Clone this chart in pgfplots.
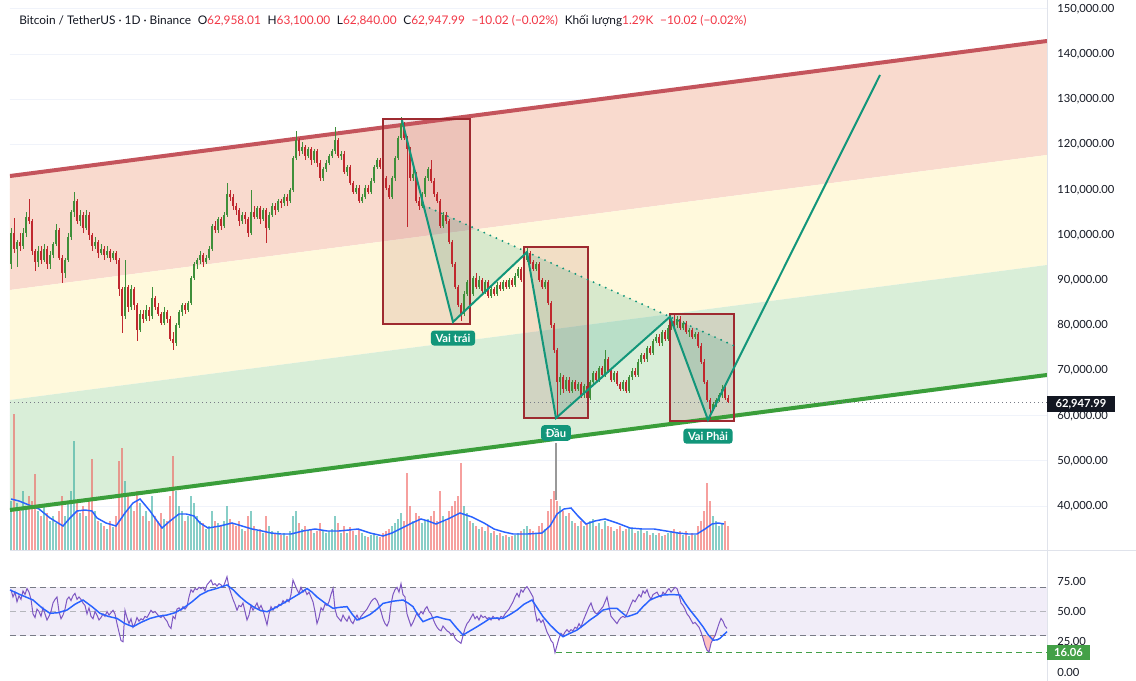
\documentclass[border=0pt]{standalone}
\usepackage{pgfplots}
\pgfplotsset{compat=1.18}
\usepackage{pgfplotstable}
\usepackage{fontspec}
\setmainfont{Lato}
\definecolor{bandr}{HTML}{F9DACE}
\definecolor{bandy}{HTML}{FFF9DC}
\definecolor{bandg}{HTML}{D9EED8}
\definecolor{chred}{HTML}{C4545C}
\definecolor{chgreen}{HTML}{3A9E3A}
\definecolor{cup}{HTML}{3F8F3A}
\definecolor{cdn}{HTML}{C0282E}
\definecolor{vup}{HTML}{26A69A}
\definecolor{vdn}{HTML}{EF5350}
\definecolor{hsteal}{HTML}{12967A}
\definecolor{boxred}{HTML}{9E2A30}
\definecolor{rsipurple}{HTML}{7E57C2}
\definecolor{rsiblue}{HTML}{2962FF}
\definecolor{txt}{HTML}{131722}
\definecolor{legred}{HTML}{F23645}
\definecolor{gridc}{HTML}{F0F3FA}
\definecolor{sepc}{HTML}{E0E3EB}
\definecolor{dashgrey}{HTML}{787B86}
\definecolor{okgreen}{HTML}{43A047}

\pgfplotstableread{
x o h l c v
11 93.5 101.5 92.5 100.5 50
14 100.5 103.7 96.0 97.0 137
17 97.0 99.0 93.0 98.5 48
20 98.5 100.5 96.5 97.5 40
23 97.5 101.5 97.0 100.5 60
26 100.5 105.0 99.5 104.0 45
29 104.0 108.0 102.5 103.0 55
32 103.0 103.5 95.5 96.5 50
35 96.5 97.0 92.0 94.0 77
38 94.0 97.5 93.0 96.5 40
41 96.5 97.5 93.5 94.5 35
44 94.5 98.0 94.0 97.0 45
47 97.0 97.5 92.5 93.5 38
50 93.5 96.5 92.5 95.5 30
53 95.5 98.5 95.0 98.0 35
56 98.0 102.5 97.5 101.0 28
59 101.0 101.5 94.5 95.0 40
62 95.0 95.5 89.4 91.5 55
65 91.5 95.0 90.5 94.5 35
68 94.5 100.5 94.0 99.5 48
71 99.5 105.5 99.0 105.0 60
74 105.0 109.5 104.0 107.5 110
77 107.5 108.0 102.5 103.0 50
80 103.0 105.5 102.0 104.5 38
83 104.5 105.0 100.5 101.5 45
86 101.5 105.5 101.0 104.5 35
89 104.5 105.0 99.0 100.0 50
92 100.0 100.5 96.5 97.5 92
95 97.5 99.5 97.0 98.5 40
98 98.5 99.0 95.0 96.0 30
101 96.0 98.0 95.5 97.0 28
104 97.0 97.5 94.5 95.5 25
107 95.5 97.5 95.0 96.5 22
110 96.5 97.0 94.0 95.0 30
113 95.0 96.5 94.5 96.0 24
116 96.0 96.5 93.5 94.5 35
119 94.5 95.0 86.5 88.0 90
122 88.0 88.5 78.3 82.0 103
125 82.0 94.5 81.5 88.5 70
128 88.5 89.0 83.0 84.0 55
131 84.0 89.0 83.5 88.0 45
134 88.0 88.5 83.5 84.5 40
137 84.5 85.0 76.5 79.0 60
140 79.0 83.5 78.5 82.5 48
143 82.5 83.5 80.5 81.5 35
146 81.5 84.5 81.0 83.5 40
149 83.5 84.0 81.0 82.0 30
152 82.0 88.5 81.5 86.0 55
155 86.0 86.5 83.5 84.0 35
158 84.0 85.0 82.0 82.5 30
161 82.5 83.0 80.0 80.5 38
164 80.5 84.0 80.0 83.0 32
167 83.0 83.5 80.5 81.5 30
170 81.5 82.0 76.5 77.0 55
173 77.0 78.5 74.6 76.0 95
176 76.0 80.5 75.5 80.0 60
179 80.0 83.5 79.5 83.0 45
182 83.0 85.0 82.0 84.5 40
185 84.5 85.0 82.5 83.5 30
188 83.5 85.5 83.0 85.0 35
191 85.0 91.0 84.5 90.5 55
194 90.5 94.0 90.0 93.5 48
197 93.5 95.0 92.5 94.5 35
200 94.5 96.5 93.5 95.5 30
203 95.5 96.0 93.0 94.0 28
206 94.0 95.5 93.5 95.0 22
209 95.0 97.5 94.5 97.0 25
212 97.0 102.5 96.5 102.0 40
215 102.0 103.0 100.5 101.0 30
218 101.0 104.0 100.5 103.5 28
221 103.5 104.0 101.0 102.0 25
224 102.0 105.0 101.5 104.5 30
227 104.5 111.5 104.0 109.0 45
230 109.0 110.0 107.5 108.5 32
233 108.5 109.0 105.5 106.5 28
236 106.5 107.0 104.5 105.5 25
239 105.5 106.0 102.0 103.0 30
242 103.0 105.0 102.5 104.5 22
245 104.5 105.0 102.5 103.5 20
248 103.5 104.0 99.5 100.5 35
251 100.5 110.0 100.0 105.0 40
254 105.0 106.5 103.5 104.0 25
257 104.0 106.5 103.5 106.0 20
260 106.0 106.5 102.5 103.5 22
263 103.5 106.0 103.0 105.5 18
266 105.5 106.0 98.2 101.5 35
269 101.5 105.0 101.0 104.5 25
272 104.5 107.0 104.0 106.5 20
275 106.5 107.0 104.5 105.5 18
278 105.5 108.0 105.0 107.5 20
281 107.5 108.0 106.0 107.0 16
284 107.0 109.0 106.5 108.5 18
287 108.5 109.0 106.5 107.5 15
290 107.5 110.5 107.0 110.0 20
293 110.0 117.5 109.5 117.0 35
296 117.0 123.0 116.5 121.0 40
299 121.0 121.5 117.5 118.5 28
302 118.5 120.5 118.0 119.5 22
305 119.5 120.0 116.5 117.5 25
308 117.5 119.5 117.0 119.0 20
311 119.0 119.5 115.5 116.5 22
314 116.5 119.0 116.0 118.5 18
317 118.5 119.0 115.0 116.0 20
320 116.0 116.5 112.0 112.5 28
323 112.5 115.0 112.0 114.5 20
326 114.5 116.5 114.0 116.0 18
329 116.0 118.0 115.5 117.5 20
332 117.5 119.0 117.0 118.5 22
335 118.5 124.0 118.0 121.0 35
338 121.0 121.5 117.0 117.5 28
341 117.5 118.5 116.5 118.0 18
344 118.0 118.5 113.5 114.0 25
347 114.0 115.5 113.0 115.0 18
350 115.0 115.5 111.0 111.5 24
353 111.5 112.0 109.0 109.5 20
356 109.5 111.0 109.0 110.5 16
359 110.5 111.0 107.0 107.5 22
362 107.5 109.0 107.0 108.5 18
365 108.5 111.0 108.0 110.5 15
368 110.5 111.0 109.0 109.5 14
371 109.5 112.5 109.0 112.0 16
374 112.0 115.5 111.5 115.0 18
377 115.0 117.0 114.5 116.5 15
380 116.5 117.0 114.5 115.0 14
383 115.0 115.5 112.0 112.5 18
386 112.5 113.0 110.0 110.5 20
389 110.5 111.0 108.0 108.5 22
392 108.5 113.0 108.0 112.5 25
395 112.5 117.5 112.0 117.0 28
398 117.0 122.0 116.5 121.5 32
401 121.5 126.0 121.0 124.5 38
404 124.5 125.0 121.0 121.5 30
407 121.5 122.0 101.8 119.0 78
410 119.0 119.5 112.0 112.5 45
413 112.5 115.0 112.0 113.5 30
416 113.5 114.0 107.0 107.5 38
419 107.5 108.5 105.5 106.5 35
422 106.5 109.5 106.0 109.0 28
425 109.0 113.0 108.5 112.5 30
428 112.5 115.0 112.0 114.5 32
431 114.5 116.5 111.5 112.0 35
434 112.0 112.5 108.5 109.0 40
437 109.0 109.5 107.0 107.5 30
440 107.5 108.0 101.5 102.0 60
443 102.0 105.0 101.5 104.5 35
446 104.5 105.0 102.5 103.0 30
449 103.0 103.5 98.0 98.5 40
452 98.5 99.0 93.0 93.5 45
455 93.5 94.0 88.0 88.5 50
458 88.5 89.0 84.0 84.5 55
461 84.5 85.0 81.0 82.5 88
464 82.5 87.5 82.0 87.0 45
467 87.0 90.0 86.5 89.5 38
470 89.5 90.0 86.5 87.0 30
473 87.0 91.0 86.5 90.5 28
476 90.5 91.5 88.0 88.5 25
479 88.5 91.0 88.0 90.0 22
482 90.0 90.5 87.0 87.5 24
485 87.5 90.0 87.0 89.5 20
488 89.5 90.0 86.0 86.5 25
491 86.5 88.5 86.0 88.0 18
494 88.0 88.5 86.5 87.0 20
497 87.0 89.5 86.5 89.0 16
500 89.0 89.5 87.5 88.0 18
503 88.0 90.0 87.5 89.5 15
506 89.5 90.0 88.0 88.5 16
509 88.5 90.5 88.0 90.0 14
512 90.0 90.5 88.5 89.0 15
515 89.0 91.5 88.5 91.0 16
518 91.0 93.0 90.5 92.5 18
521 92.5 93.0 89.5 90.0 20
524 90.0 95.0 89.5 94.5 22
527 94.5 97.3 94.0 96.0 25
530 96.0 96.5 93.5 94.0 22
533 94.0 94.5 92.0 92.5 20
536 92.5 94.0 92.0 93.5 18
539 93.5 94.0 89.5 90.0 25
542 90.0 90.5 88.0 88.5 28
545 88.5 90.0 88.0 89.5 22
548 89.5 90.0 84.5 85.0 40
551 85.0 85.5 79.5 80.0 52
554 80.0 80.5 74.0 74.5 60
557 74.5 75.0 60.0 67.5 50
560 67.5 69.5 64.5 68.5 45
563 68.5 69.0 65.0 66.0 40
566 66.0 68.5 65.5 68.0 35
569 68.0 68.5 65.0 65.5 38
572 65.5 68.0 65.0 67.5 30
575 67.5 68.0 65.5 66.0 28
578 66.0 67.5 65.5 67.0 25
581 67.0 67.5 64.0 64.5 30
584 64.5 67.0 64.0 66.5 25
587 66.5 67.0 63.5 64.0 28
590 64.0 68.0 63.5 67.5 30
593 67.5 70.0 67.0 69.5 32
596 69.5 70.0 67.5 68.0 25
599 68.0 71.0 67.5 70.5 28
602 70.5 71.0 68.5 69.0 22
605 69.0 74.5 68.5 72.5 30
608 72.5 73.0 69.5 70.0 25
611 70.0 70.5 67.5 68.0 24
614 68.0 70.0 67.5 69.5 20
617 69.5 70.0 66.5 67.0 22
620 67.0 67.5 65.5 66.0 25
623 66.0 68.0 65.5 67.5 20
626 67.5 68.0 65.0 65.5 22
629 65.5 69.0 65.0 68.5 24
632 68.5 70.5 68.0 70.0 22
635 70.0 70.5 68.5 69.0 18
638 69.0 72.5 68.5 72.0 20
641 72.0 74.0 71.5 73.5 22
644 73.5 74.0 72.0 72.5 18
647 72.5 75.5 72.0 75.0 20
650 75.0 75.5 73.5 74.0 16
653 74.0 77.0 73.5 76.5 18
656 76.5 78.0 76.0 77.5 16
659 77.5 78.0 75.5 76.0 18
662 76.0 79.0 75.5 78.5 15
665 78.5 79.0 76.5 77.0 16
668 77.0 80.0 76.5 79.5 18
671 79.5 81.5 79.0 81.0 20
674 81.0 82.5 79.5 80.0 22
677 80.0 82.0 79.5 81.5 18
680 81.5 82.0 79.0 79.5 20
683 79.5 81.0 79.0 80.5 16
686 80.5 81.0 78.0 78.5 20
689 78.5 79.5 77.5 79.0 15
692 79.0 79.5 77.0 77.5 18
695 77.5 78.5 77.0 78.0 16
698 78.0 78.5 75.0 75.5 25
701 75.5 76.0 71.5 72.0 30
704 72.0 72.5 67.0 67.5 40
707 67.5 68.0 63.0 63.5 68
710 63.5 64.0 59.3 61.5 50
713 61.5 63.0 61.0 62.5 35
716 62.5 64.0 62.0 63.5 30
719 63.5 65.0 63.0 64.5 25
722 64.5 66.8 64.0 66.0 28
725 66.0 66.5 63.5 64.0 30
728 64.0 64.5 62.8 62.95 25
}\candles

\pgfplotsset{
  panel/.style={scale only axis, width=777.75pt, xmin=10, xmax=1047,
    axis line style={draw=none}, major tick length=0pt, xtick=\empty,
    ytick pos=right, yticklabel pos=right,
    yticklabel style={anchor=west, inner sep=0pt, xshift=7.5pt,
      font=\fontsize{8.4}{9}\selectfont, text=txt}},
  pricepanel/.style={panel, at={(7.5pt,97.5pt)}, anchor=south west,
    height=413.25pt, ymin=30.09, ymax=151.99},
  candle/.style n args={3}{draw=none, mark=none, forget plot,
    restrict expr to domain={\thisrow{c}-\thisrow{o}}{#1},
    error bars/.cd, y dir=both, y explicit, error mark=none,
    error bar style={draw=#2, line width=#3}},
}

\begin{document}
\begin{tikzpicture}[x=0.75pt,y=0.75pt]
\useasboundingbox (0,0) rectangle (1136,681);
\fill[white] (0,0) rectangle (1136,681);

% ---------- price panel: bands, grid, scale ----------
\begin{axis}[pricepanel,
  ytick={40,50,60,70,80,90,100,110,120,130,140,150},
  yticklabels={{40,000.00},{50,000.00},{60,000.00},{70,000.00},{80,000.00},{90,000.00},{100,000.00},{110,000.00},{120,000.00},{130,000.00},{140,000.00},{150,000.00}},
  ymajorgrids, grid style={gridc, line width=0.75pt}]
\addplot[fill=bandr, draw=none] coordinates {(10,113.05)(1047,142.92)(1047,117.70)(10,87.83)} -- cycle;
\addplot[fill=bandy, draw=none] coordinates {(10,87.83)(1047,117.70)(1047,93.36)(10,63.50)} -- cycle;
\addplot[fill=bandg, draw=none] coordinates {(10,63.50)(1047,93.36)(1047,69.03)(10,39.16)} -- cycle;
\end{axis}

% ---------- volume ----------
\begin{axis}[panel, at={(7.5pt,97.5pt)}, anchor=south west, height=413.25pt,
  ymin=0, ymax=551, hide axis]
\addplot[ycomb, draw=vup, draw opacity=0.55, line width=1.5pt,
  restrict expr to domain={\thisrow{c}-\thisrow{o}}{0:1000}] table[x=x,y=v]{\candles};
\addplot[ycomb, draw=vdn, draw opacity=0.55, line width=1.5pt,
  restrict expr to domain={\thisrow{c}-\thisrow{o}}{-1000:-0.001}] table[x=x,y=v]{\candles};
\addplot[rsiblue, line width=1.1pt] coordinates {(11,52)(19,50)(29,46)(39,42)(50,33)(63,25)(70,33)(77,40)(85,41)(92,40)(97,33)(106,28)(116,25)(125,38)(133,48)(140,52)(150,40)(162,23)(170,30)(179,37)(186,37)(194,35)(200,28)(208,23)(220,25)(232,28)(242,25)(252,22)(262,20)(271,18)(281,17)(291,17)(303,20)(315,22)(327,20)(339,20)(349,21)(358,22)(370,18)(383,15)(392,18)(402,23)(412,28)(421,32)(428,30)(436,27)(448,32)(460,38)(472,34)(484,28)(494,22)(504,19)(513,17)(528,17)(542,18)(550,25)(557,37)(564,42)(571,43)(578,35)(586,27)(595,30)(605,32)(617,28)(630,23)(642,22)(654,22)(666,20)(678,18)(688,17)(697,17)(705,22)(712,27)(718,28)(724,27)};
\end{axis}

% ---------- candles and drawings ----------
\begin{axis}[pricepanel, hide axis]
% rectangles fill
\addplot[fill=boxred, fill opacity=0.13, draw=none] coordinates {(383,125.66)(470,125.66)(470,80.31)(383,80.31)} -- cycle;
\addplot[fill=boxred, fill opacity=0.13, draw=none] coordinates {(524,97.35)(588,97.35)(588,59.51)(524,59.51)} -- cycle;
\addplot[fill=boxred, fill opacity=0.13, draw=none] coordinates {(670,82.52)(734,82.52)(734,58.85)(670,58.85)} -- cycle;
% pattern triangles
\addplot[fill=hsteal, fill opacity=0.16, draw=none] coordinates {(423.5,106.6)(453,80.75)(527,96.2)} -- cycle;
\addplot[fill=hsteal, fill opacity=0.16, draw=none] coordinates {(527,96.2)(556,59.5)(670,81.9)} -- cycle;
\addplot[fill=hsteal, fill opacity=0.16, draw=none] coordinates {(670,81.9)(708,59.1)(735,71.1)(735,75.4)} -- cycle;
% channel lines
\addplot[chred, line width=3pt] coordinates {(10,113.05)(1047,142.92)};
\addplot[chgreen, line width=3pt] coordinates {(10,39.16)(1047,69.03)};
% current price line
\addplot[dashgrey, line width=0.6pt, dash pattern=on 0.75pt off 2.25pt] coordinates {(10,62.95)(1047,62.95)};
% candles: wicks
\addplot[candle={0:1000}{cup}{0.6pt}]
  table[x=x, y=c, y error plus expr=\thisrow{h}-\thisrow{c}, y error minus expr=\thisrow{c}-\thisrow{l}]{\candles};
\addplot[candle={-1000:-0.001}{cdn}{0.6pt}]
  table[x=x, y=c, y error plus expr=\thisrow{h}-\thisrow{c}, y error minus expr=\thisrow{c}-\thisrow{l}]{\candles};
% candles: bodies
\addplot[candle={0:1000}{cup}{1.5pt}]
  table[x=x, y expr={(\thisrow{o}+\thisrow{c})/2}, y error expr={abs(\thisrow{c}-\thisrow{o})/2}]{\candles};
\addplot[candle={-1000:-0.001}{cdn}{1.5pt}]
  table[x=x, y expr={(\thisrow{o}+\thisrow{c})/2}, y error expr={abs(\thisrow{c}-\thisrow{o})/2}]{\candles};
% rectangle borders
\addplot[boxred, line width=1.5pt] coordinates {(383,125.66)(470,125.66)(470,80.31)(383,80.31)} -- cycle;
\addplot[boxred, line width=1.5pt] coordinates {(524,97.35)(588,97.35)(588,59.51)(524,59.51)} -- cycle;
\addplot[boxred, line width=1.5pt] coordinates {(670,82.52)(734,82.52)(734,58.85)(670,58.85)} -- cycle;
% neckline and zigzag
\addplot[hsteal, line width=1.6pt, line cap=round, dash pattern=on 0pt off 5pt] coordinates {(423.5,106.6)(735,75.4)};
\addplot[hsteal, line width=1.5pt] coordinates {(402,125.4)(453,80.75)(527,96.2)(556,59.5)(670,81.9)(708,59.1)(880,135.4)};
\addplot[gray!80, line width=1.1pt] coordinates {(556,54.0)(556,41.4)};
% labels
\node[fill=hsteal, text=white, rounded corners=2.5pt, inner xsep=3.5pt, inner ysep=2.5pt,
  font=\bfseries\fontsize{8.4}{9}\selectfont] at (axis cs:453,77.2) {Vai trái};
\node[fill=hsteal, text=white, rounded corners=2.5pt, inner xsep=3.5pt, inner ysep=2.5pt,
  font=\bfseries\fontsize{8.4}{9}\selectfont] at (axis cs:556,56.2) {Đầu};
\node[fill=hsteal, text=white, rounded corners=2.5pt, inner xsep=3.5pt, inner ysep=2.5pt,
  font=\bfseries\fontsize{8.4}{9}\selectfont] at (axis cs:708,55.5) {Vai Phải};
\end{axis}

% ---------- RSI panel ----------
\begin{axis}[panel, at={(7.5pt,0pt)}, anchor=south west, height=96.75pt,
  ymin=-7.4, ymax=99.15,
  ytick={0,25,50,75}, yticklabels={0.00,25.00,50.00,75.00}]
\addplot[fill=rsipurple, fill opacity=0.1, draw=none] coordinates {(10,70)(1047,70)(1047,30)(10,30)} -- cycle;
\addplot[dashgrey, line width=0.75pt, dash pattern=on 4.5pt off 3pt] coordinates {(10,70)(1047,70)};
\addplot[dashgrey!55, line width=0.75pt, dash pattern=on 4.5pt off 3pt] coordinates {(10,50)(1047,50)};
\addplot[dashgrey, line width=0.75pt, dash pattern=on 4.5pt off 3pt] coordinates {(10,30)(1047,30)};
\addplot[okgreen, line width=0.75pt, dash pattern=on 4.5pt off 3pt] coordinates {(556,16.06)(1047,16.06)};
\addplot[fill=red!40, fill opacity=0.6, draw=none] coordinates {(702,30)(703,28)(705,22)(707,18)(709,16.5)(711,23.7)(713,27)(715,30)} -- cycle;
\addplot[rsipurple, line width=0.75pt] coordinates {(11,68)(13,62)(15,66)(17,58)(19,63)(21,60)(23,67)(25,64)(27,69)(29,66)(31,60)(33,48)(35,45)(37,52)(39,50)(41,46)(43,53)(45,48)(47,43)(49,46)(51,50)(53,57)(55,60)(57,62)(59,50)(61,44)(63,47)(65,52)(67,60)(69,62)(71,59)(73,63)(75,65)(77,60)(79,62)(81,60)(83,57)(85,55)(87,48)(89,53)(91,46)(93,44)(95,50)(97,47)(99,43)(101,45)(103,48)(105,46)(107,50)(109,47)(111,49)(113,51)(115,48)(117,40)(119,33)(121,26)(123,25)(125,51)(127,45)(129,40)(131,44)(133,37)(135,40)(137,45)(139,42)(141,44)(143,43)(145,46)(147,45)(149,48)(151,51)(153,49)(155,50)(157,48)(159,46)(161,45)(163,47)(165,44)(167,42)(169,38)(171,36)(173,46)(175,44)(177,52)(179,53)(181,51)(183,54)(185,52)(187,54)(189,62)(191,68)(193,66)(195,69)(197,68)(199,70)(201,69)(203,70)(205,67)(207,72)(209,74)(211,76)(213,72)(215,73)(217,71)(219,73)(221,72)(223,70)(225,74)(227,78.7)(229,70)(231,65)(233,60)(235,56)(237,51)(239,55)(241,54)(243,57)(245,50)(247,43)(249,47)(251,55)(253,51)(255,54)(257,57)(259,52)(261,55)(263,51)(265,45)(267,39)(269,48)(271,54)(273,51)(275,54)(277,53)(279,56)(281,55)(283,59)(285,57)(287,60)(289,58)(291,64)(293,76)(295,72)(297,68)(299,65)(301,70)(303,66)(305,68)(307,64)(309,66)(311,62)(313,58)(315,50)(317,40)(319,45)(321,53)(323,51)(325,56)(327,55)(329,58)(331,64)(333,69)(335,52)(337,46)(339,44)(341,42)(343,47)(345,44)(347,42)(349,46)(351,42)(353,40)(355,44)(357,47)(359,43)(361,46)(363,48)(365,50)(367,52)(369,55)(371,58)(373,60)(375,61)(377,59)(379,55)(381,50)(383,44)(385,40)(387,38)(389,42)(391,56)(393,64)(395,68)(397,70)(399,66)(401,73)(403,64)(405,62)(407,48)(409,43)(411,38)(413,41)(415,45)(417,49)(419,47)(421,50)(423,48)(425,52)(427,54)(429,50)(431,48)(433,44)(435,40)(437,37)(439,35)(441,34)(443,38)(445,36)(447,34)(449,33)(451,31)(453,32)(455,28)(457,26)(459,25)(461,23.7)(463,30)(465,36)(467,40)(469,42)(471,45)(473,48)(475,44)(477,46)(479,43)(481,47)(483,45)(485,46)(487,44)(489,45)(491,43)(493,46)(495,44)(497,45)(499,43)(501,46)(503,45)(505,48)(507,50)(509,52)(511,55)(513,58)(515,62)(517,65)(519,62)(521,68)(523,66)(525,69)(527,70.5)(529,68)(531,65)(533,62)(535,50)(537,42)(539,44)(541,41)(543,43)(545,38)(547,33)(549,30)(551,26)(553,24)(555,16.06)(557,22)(559,28)(561,32)(563,30)(565,33)(567,35)(569,33)(571,35)(573,34)(575,37)(577,36)(579,40)(581,37)(583,42)(585,46)(587,50)(589,54)(591,57)(593,52)(595,49)(597,48)(599,50)(601,52)(603,54)(605,58)(607,62)(609,54)(611,46)(613,44)(615,42)(617,40)(619,43)(621,45)(623,46)(625,45)(627,48)(629,52)(631,56)(633,59.5)(635,58)(637,61)(639,64)(641,62)(643,67)(645,65)(647,68)(649,63)(651,60)(653,64)(655,65)(657,66)(659,63)(661,62)(663,66)(665,64)(667,67)(669,69)(671,66)(673,68)(675,70)(677,69)(679,64)(681,57)(683,55)(685,52)(687,48)(689,46)(691,43)(693,40)(695,41)(697,39)(699,37)(701,33)(703,28)(705,22)(707,18)(709,16.5)(711,23.7)(713,27)(715,30)(717,35)(719,40)(721,44.3)(723,42)(725,38)(727,36)};
\addplot[rsiblue, line width=1.1pt] coordinates {(10,67.8)(20,64)(33,59.5)(42,53)(50,48.5)(58,49)(67,51.2)(75,56)(83,59.5)(92,54)(100,48.5)(108,46)(117,44.3)(125,40)(133,37.4)(141,41)(150,44.3)(158,46)(167,47.1)(175,49)(183,52.6)(192,58)(200,63.6)(208,67)(217,69.1)(227,71.9)(233,68)(240,62.2)(246,58)(253,54)(260,51)(267,49.8)(275,53)(283,56.7)(292,61)(300,65)(307,69)(312,66)(317,62)(325,57)(333,52.6)(340,53.5)(347,54)(352,48)(357,43)(364,45)(370,47.5)(377,52)(383,56.7)(393,58.5)(403,59.5)(408,57)(413,54)(418,47)(423,41.6)(430,44)(437,45.7)(444,44)(450,43)(457,36)(463,30.6)(470,34)(477,37.4)(484,41)(490,44.3)(497,44.5)(503,44.3)(510,47.5)(517,51.2)(524,56)(532,59.5)(538,52)(543,45.7)(550,39)(557,33.3)(563,29.2)(570,32)(577,34.7)(584,39)(590,43)(597,47)(603,51.2)(610,52.5)(617,52.6)(622,49)(627,45.7)(632,47)(637,48.5)(643,54)(650,59.5)(657,62)(663,63.6)(672,64)(680,63.6)(685,57)(690,51.2)(697,44)(703,37.4)(708,31)(713,26.4)(717,26.5)(720,27.8)(724,31)(727,33.3)};
\end{axis}

% ---------- separators, price labels, legend ----------
\draw[sepc, line width=0.75pt] (10,130) -- (1136,130);
\draw[sepc, line width=0.75pt] (1047,0) -- (1047,681);
\fill[txt] (1047,269) rectangle (1115,285);
\node[text=white, font=\bfseries\fontsize{8.4}{9}\selectfont, inner sep=0pt] at (1081,277) {62,947.99};
\fill[okgreen] (1047,21) rectangle (1090,36);
\node[text=white, font=\bfseries\fontsize{8.4}{9}\selectfont, inner sep=0pt] at (1068.5,28.5) {16.06};
\node[anchor=west, inner sep=0pt, text=txt, font=\fontsize{8.9}{10}\selectfont] at (19,660)
 {Bitcoin / TetherUS · 1D · Binance\hspace{5pt}O\textcolor{legred}{62,958.01}\hspace{5pt}H\textcolor{legred}{63,100.00}\hspace{5pt}L\textcolor{legred}{62,840.00}\hspace{5pt}C\textcolor{legred}{62,947.99}\hspace{5pt}\textcolor{legred}{−10.02 (−0.02\%)}\hspace{5pt}Khối lượng\textcolor{legred}{1.29K}\hspace{5pt}\textcolor{legred}{−10.02 (−0.02\%)}};
\end{tikzpicture}
\end{document}
